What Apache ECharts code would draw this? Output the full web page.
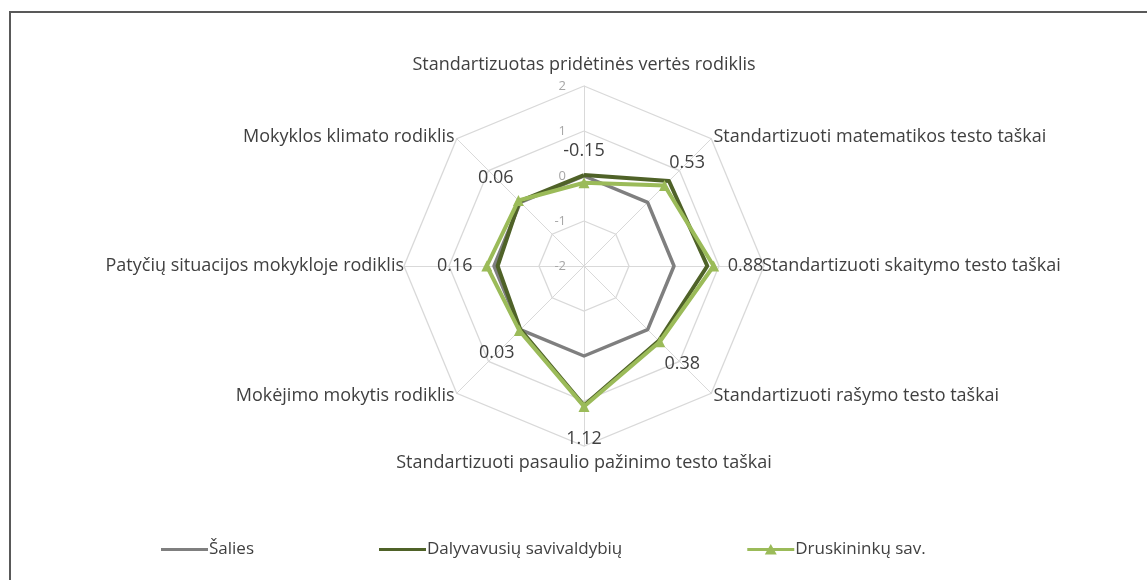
<!DOCTYPE html>
<html>
<head>
    <meta charset="utf-8">
    <title>Radar</title>
    <script src="https://cdn.jsdelivr.net/npm/echarts@6/dist/echarts.min.js"></script>
    <style>
        html, body { margin: 0; padding: 0; background: #fff; }
        #main { width: 1147px; height: 580px; }
    </style>
</head>
<body>
<div id="main"></div>
<script type="text/javascript">
    // clockwise from the top, as in the picture
    var indicatorNames = [
        'Standartizuotas pridėtinės vertės rodiklis',
        'Standartizuoti matematikos testo taškai',
        'Standartizuoti skaitymo testo taškai',
        'Standartizuoti rašymo testo taškai',
        'Standartizuoti pasaulio pažinimo testo taškai',
        'Mokėjimo mokytis rodiklis',
        'Patyčių situacijos mokykloje rodiklis',
        'Mokyklos klimato rodiklis'
    ];
    var seriesNames = ['Šalies', 'Dalyvavusių savivaldybių', 'Druskininkų sav.'];
    var saliesValues = [0, 0, 0, 0, 0, 0, 0, 0];
    var dalyvavusiuValues = [0.02, 0.67, 0.74, 0.35, 1.1, 0.0, -0.08, 0.03];
    var druskininkuValues = [-0.15, 0.53, 0.88, 0.38, 1.12, 0.03, 0.16, 0.06];
    var axisTicks = [-2, -1, 0, 1, 2];

    var center = [584, 266];
    var nameGaps = [12, 3, -2, 3, 8, 3, 0, 3];

    // echarts goes counter-clockwise, so reorder
    var order = [0, 7, 6, 5, 4, 3, 2, 1];
    function reorder(arr) {
        return order.map(function (i) { return arr[i]; });
    }

    var indicators = reorder(indicatorNames.map(function (n, i) {
        var ind = {
            name: n,
            min: axisTicks[0],
            max: axisTicks[axisTicks.length - 1],
            nameGap: nameGaps[i]
        };
        if (i === 0) {
            ind.axisLabel = {show: true};
        }
        return ind;
    }));

    var lineIcon = 'path://M0,0M47,14M0,5.5L47,5.5L47,8.5L0,8.5Z';

    var chart = echarts.init(document.getElementById('main'));
    chart.setOption({
        animation: false,
        backgroundColor: '#fff',
        graphic: [{
            type: 'polyline',
            shape: {points: [[10, 580], [10, 12], [1147, 12]]},
            style: {stroke: '#595959', lineWidth: 2, fill: null}
        }],
        legend: {
            left: 156,
            top: 536,
            itemGap: 125,
            itemWidth: 47,
            itemHeight: 14,
            textStyle: {fontFamily: 'Open Sans', fontSize: 17, color: '#404040', padding: [0, 0, 0, -4]},
            data: [
                {name: seriesNames[0], icon: lineIcon},
                {name: seriesNames[1], icon: lineIcon},
                {name: seriesNames[2], icon: lineIcon + ' M23.5,1.5L29.5,12L17.5,12Z'}
            ]
        },
        radar: {
            center: center,
            radius: 180,
            startAngle: 90,
            splitNumber: axisTicks.length - 1,
            shape: 'polygon',
            indicator: indicators,
            axisName: {
                color: '#404040',
                fontFamily: 'Open Sans',
                fontSize: 18
            },
            axisLine: {lineStyle: {color: '#d9d9d9', width: 1}},
            splitLine: {lineStyle: {color: '#d9d9d9', width: 1.3}},
            splitArea: {show: false},
            axisTick: {show: false},
            axisLabel: {
                show: false,
                color: '#a6a6a6',
                fontFamily: 'Open Sans',
                fontSize: 13,
                margin: 18
            }
        },
        series: [{
            name: seriesNames[0],
            type: 'radar',
            symbol: 'none',
            itemStyle: {color: '#7f7f7f'},
            lineStyle: {color: '#7f7f7f', width: 3.5},
            data: [{value: reorder(saliesValues), name: seriesNames[0]}]
        }, {
            name: seriesNames[1],
            type: 'radar',
            symbol: 'none',
            itemStyle: {color: '#4f6228'},
            lineStyle: {color: '#4f6228', width: 4},
            data: [{value: reorder(dalyvavusiuValues), name: seriesNames[1]}]
        }, {
            name: seriesNames[2],
            type: 'radar',
            symbol: 'triangle',
            symbolSize: 11,
            itemStyle: {color: '#9bbb59'},
            lineStyle: {color: '#9bbb59', width: 4},
            label: {
                show: true,
                color: '#404040',
                fontFamily: 'Open Sans',
                fontSize: 18
            },
            labelLayout: function (p) {
                var cx = p.rect.x + p.rect.width / 2;
                var cy = p.rect.y + p.rect.height / 2;
                var dx = cx - center[0], dy = cy - center[1];
                var len = Math.sqrt(dx * dx + dy * dy) || 1;
                var d = 32;
                return {
                    x: cx + dx / len * d,
                    y: cy + dy / len * d,
                    align: 'center',
                    verticalAlign: 'middle'
                };
            },
            data: [{value: reorder(druskininkuValues), name: seriesNames[2]}]
        }]
    });
</script>
</body>
</html>
